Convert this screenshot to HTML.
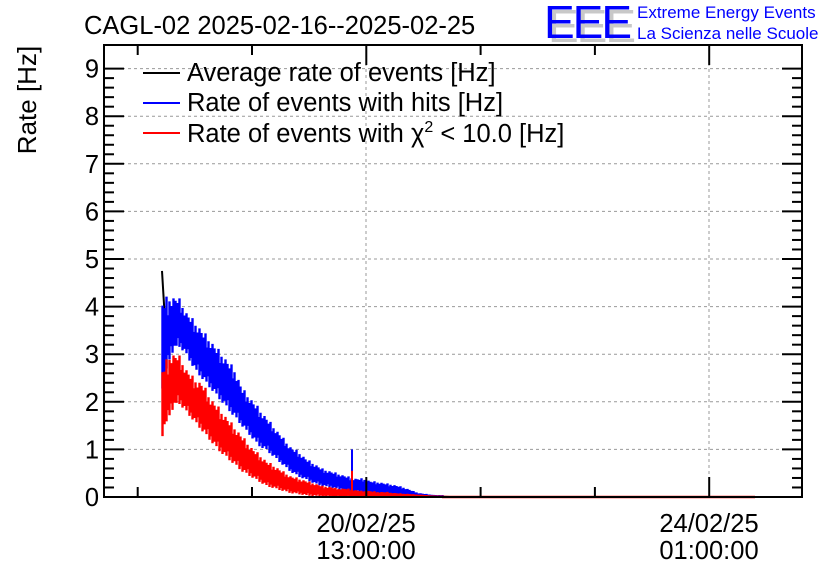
<!DOCTYPE html>
<html><head><meta charset="utf-8"><style>
body{margin:0;background:#fff;width:836px;height:572px;overflow:hidden}
text{font-family:"Liberation Sans",sans-serif}
</style></head><body>
<svg id="c" width="836" height="572">
<text x="84" y="34" font-size="25.5">CAGL-02 2025-02-16--2025-02-25</text>
<g>
<text x="548" y="42" font-size="46" fill="#c8c8c8" letter-spacing="-2">EEE</text>
<text x="544" y="38" font-size="46" fill="#0000ff" letter-spacing="-2">EEE</text>
<text x="637" y="18" font-size="17" fill="#0000ff">Extreme Energy Events</text>
<text x="637" y="39" font-size="17" fill="#0000ff">La Scienza nelle Scuole</text>
</g>
<text transform="translate(36,100) rotate(-90)" font-size="26" text-anchor="middle">Rate [Hz]</text>
<g id="grid"></g><g id="series"></g><g id="axes"></g>
<g>
<line x1="143" y1="73" x2="180" y2="73" stroke="#000" stroke-width="2"/>
<text x="187" y="81" font-size="25.5">Average rate of events [Hz]</text>
<line x1="143" y1="103" x2="180" y2="103" stroke="#00f" stroke-width="2"/>
<text x="187" y="111" font-size="25.5">Rate of events with hits [Hz]</text>
<line x1="143" y1="133" x2="180" y2="133" stroke="#f00" stroke-width="2"/>
<text x="187" y="142" font-size="25.5">Rate of events with χ<tspan dy="-10" font-size="16">2</tspan><tspan dy="10"> &lt; 10.0 [Hz]</tspan></text>
</g>
</svg>
<script>
const binStartX=[162,170,178,186,194,202,210,218,226,234,242,250,258,266,274,282,290,298,306,314,322,330,338,346,354,362,370,378,386,394,402,410,418,426,434];
const blueHi=[4.0,4.1,4.1,3.8,3.6,3.4,3.2,3.0,2.8,2.6,2.2,2.0,1.8,1.6,1.4,1.2,1.0,0.9,0.75,0.65,0.55,0.5,0.45,0.4,0.35,0.35,0.3,0.28,0.25,0.22,0.18,0.12,0.06,0.04,0.02];
const blueLo=[2.3,3.0,3.2,3.0,2.7,2.5,2.3,2.1,1.9,1.7,1.5,1.3,1.1,1.0,0.85,0.7,0.55,0.45,0.38,0.3,0.25,0.22,0.18,0.15,0.12,0.12,0.1,0.08,0.06,0.05,0.04,0.02,0.01,0.0,0.0];
const redHi=[2.6,2.9,2.9,2.6,2.4,2.3,2.0,1.8,1.6,1.4,1.2,1.0,0.85,0.7,0.6,0.5,0.4,0.35,0.3,0.25,0.2,0.18,0.15,0.15,0.12,0.1,0.1,0.08,0.08,0.06,0.05,0.04,0.03,0.02,0.01];
const redLo=[1.3,1.8,2.0,1.8,1.6,1.4,1.2,1.0,0.85,0.7,0.55,0.45,0.35,0.25,0.2,0.15,0.1,0.08,0.05,0.04,0.03,0.02,0.02,0.02,0.01,0.01,0.0,0.0,0.0,0.0,0.0,0.0,0.0,0.0,0.0];
const spikeX=352, blueSpike=1.0, redSpike=0.55, blackPeak=4.75;
const yTicks=[0,1,2,3,4,5,6,7,8,9];
const xTickLabels=[["20/02/25","13:00:00"],["24/02/25","01:00:00"]];
const xTickPos=[366,709];
const L=104,R=802,T=45,B=497;
const y=v=>B-v*47.6;
const NS="http://www.w3.org/2000/svg";
function mk(p,tag,at){const e=document.createElementNS(NS,tag);for(const k in at)e.setAttribute(k,at[k]);p.appendChild(e);return e;}
const grid=document.getElementById('grid'),ax=document.getElementById('axes'),ser=document.getElementById('series');
yTicks.forEach(v=>{if(v>0){const g=mk(grid,'line',{x1:L,x2:R,y1:y(v),y2:y(v),stroke:'#999','stroke-dasharray':'3,3'});

}
const t=mk(ax,'text',{x:L-5,y:y(v)+9,'font-size':25.5,'text-anchor':'end'});t.textContent=v;


mk(ax,'line',{x1:L,x2:L+20,y1:y(v),y2:y(v),stroke:'#000','stroke-width':2});
mk(ax,'line',{x1:R-20,x2:R,y1:y(v),y2:y(v),stroke:'#000','stroke-width':2});
if(v<9)for(let k=1;k<5;k++){const yy=y(v+k*0.2);mk(ax,'line',{x1:L,x2:L+10,y1:yy,y2:yy,stroke:'#000','stroke-width':2});mk(ax,'line',{x1:R-10,x2:R,y1:yy,y2:yy,stroke:'#000','stroke-width':2});}
});
xTickPos.forEach((x,i)=>{const g=mk(grid,'line',{x1:x,x2:x,y1:T,y2:B,stroke:'#999','stroke-dasharray':'3,3'});


xTickLabels[i].forEach((s,j)=>{const t=mk(ax,'text',{x:x,y:532+j*27,'font-size':25.5,'text-anchor':'middle'});t.textContent=s;

});});
for(let x=137.7;x<R;x+=114.3){const big=Math.abs(x-366)<3||Math.abs(x-709)<3;const h=big?20:10;
mk(ax,'line',{x1:x,x2:x,y1:B-h,y2:B,stroke:'#000','stroke-width':2});mk(ax,'line',{x1:x,x2:x,y1:T,y2:T+h,stroke:'#000','stroke-width':2});}
const fr=mk(ax,'rect',{x:L,y:T,width:R-L,height:B-T,fill:'none',stroke:'#000','stroke-width':2});


function interp(arr,px){const i=Math.min(binStartX.length-2,Math.max(0,Math.floor((px-binStartX[0])/8)));const f=Math.min(1,Math.max(0,(px-binStartX[i])/8));return arr[i]+(arr[i+1]-arr[i])*f;}
function band(hi,lo,color,name,endX,spike){
 let d='';const top=[1,0.7,0.95,0.5,1.1,0.8,0.6,1,0.75,0.9,0.55,1.05,0.85];const bot=[0,0.3,0.1,0.4,0.05,0.2,0.35,0,0.25,0.15];
 const last=binStartX[binStartX.length-1]+8;
 for(let px=binStartX[0];px<=last;px++){const h=interp(hi,px),l=interp(lo,px);const k=px-binStartX[0];
  const a=l+(h-l)*bot[k%bot.length], b=l+(h-l)*Math.min(1.1,top[k%top.length]);
  d+='M'+(px+0.5)+','+(y(a)+1).toFixed(1)+'V'+(y(b)-1).toFixed(1);}
 d+='M'+last+','+y(0)+'H'+endX;
 const p=mk(ser,'path',{d:d,fill:'none',stroke:color,'stroke-width':2.4});
 
 
 const s=mk(ser,'line',{x1:spikeX,x2:spikeX,y1:y(0),y2:y(spike),stroke:color,'stroke-width':2});
 
 
}
let bd='M'+binStartX[0]+','+y(blackPeak)+'L'+(binStartX[0]+3)+','+y(3.7);
binStartX.forEach((x0,i)=>{bd+='L'+(x0+4)+','+y((blueHi[i]+blueLo[i])/2);});
bd+='L450,'+y(0)+'L755,'+y(0);
const bp=mk(ser,'path',{d:bd,fill:'none',stroke:'#000','stroke-width':2});


band(blueHi,blueLo,'#00f','hits-rate-series',442,blueSpike);
band(redHi,redLo,'#f00','chi2-rate-series',755,redSpike);
</script>
</body></html>
